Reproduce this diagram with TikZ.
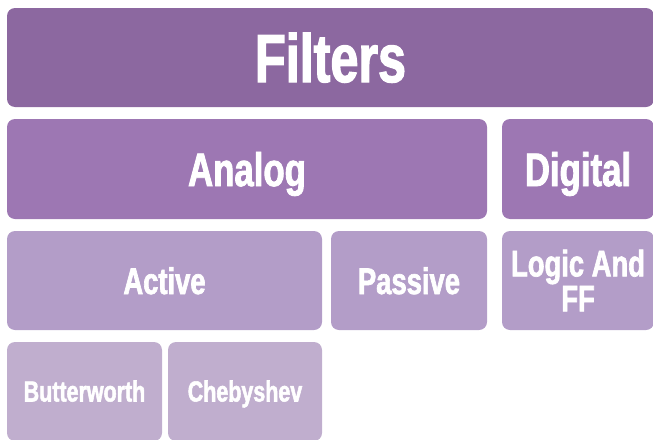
\documentclass[tikz,border=0pt]{standalone}
\usepackage{fontspec}
\newfontfamily\boxfont[FakeStretch=0.74, FakeBold=1.8]{Liberation Sans}

\definecolor{topcol}{HTML}{8C68A0}
\definecolor{midcol}{HTML}{9D77B3}
\definecolor{lowcol}{HTML}{B39DC8}
\definecolor{leafcol}{HTML}{C0AECE}

\begin{document}
\begin{tikzpicture}[x=1pt, y=-1pt,
		box/.style={rectangle, rounded corners=8pt, inner sep=0pt, text=white, align=center, font=\boxfont\bfseries},
		toplevel/.style={box, fill=topcol, font=\boxfont\bfseries\fontsize{68}{68}\selectfont, text height=49pt, text depth=0pt},
		midlevel/.style={box, fill=midcol, font=\boxfont\bfseries\fontsize{47}{47}\selectfont, text height=34pt, text depth=0pt},
		lowlevel/.style={box, fill=lowcol, font=\boxfont\bfseries\fontsize{37}{35}\selectfont},
		leaflevel/.style={box, fill=leafcol, font=\boxfont\bfseries\fontsize{29}{29}\selectfont, text height=20pt, text depth=0pt}]
		\useasboundingbox (0,0) rectangle (653,439);
		\clip (0,0) rectangle (653,439);
		% first row
		\node[toplevel, minimum width=647pt, minimum height=99pt] (filters) at (330.5,57.5) {Filters};
		% second row
		\node[midlevel, minimum width=480pt, minimum height=100pt] (analog) at (247,169) {Analog};
		\node[midlevel, minimum width=152pt, minimum height=100pt] (digital) at (578,169) {Digital};
		% third row
		\node[lowlevel, minimum width=315pt, minimum height=99pt, text height=27pt, text depth=0pt] (active) at (164.5,280.5) {Active};
		\node[lowlevel, minimum width=156pt, minimum height=99pt, text height=27pt, text depth=0pt] (passive) at (409,280.5) {Passive};
		\node[lowlevel, minimum width=152pt, minimum height=99pt] (logic) at (578,280.5) {Logic And\\FF};
		% fourth row
		\node[leaflevel, minimum width=155pt, minimum height=99pt] (butterworth) at (84.5,391.5) {Butterworth};
		\node[leaflevel, minimum width=154pt, minimum height=99pt] (chebyshev) at (245,391.5) {Chebyshev};
\end{tikzpicture}
\end{document}
